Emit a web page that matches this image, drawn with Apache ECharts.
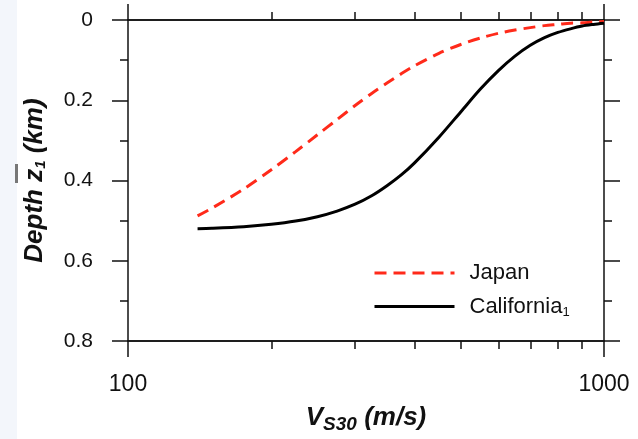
<!DOCTYPE html>
<html>
<head>
<meta charset="utf-8">
<script src="https://cdn.jsdelivr.net/npm/echarts@6/dist/echarts.min.js"></script>
<style>
html,body{margin:0;padding:0;background:#fff;}
#c{width:638px;height:439px;}
</style>
</head>
<body>
<div id="c"></div>
<script>
// Data
const vs30 = [140,150,175,200,225,250,275,300,325,350,375,400,450,500,550,600,650,700,750,800,850,900,950,1000];
const japan = [0.488,0.469,0.421,0.373,0.328,0.286,0.248,0.213,0.183,0.157,0.134,0.114,0.083,0.061,0.045,0.033,0.025,0.019,0.014,0.011,0.008,0.007,0.005,0.004];
const california = [0.520,0.519,0.515,0.509,0.501,0.490,0.476,0.459,0.438,0.413,0.386,0.356,0.292,0.229,0.172,0.126,0.090,0.063,0.044,0.031,0.022,0.015,0.011,0.008];
const xMajorTicks = [100,1000];
const xMinorTicks = [200,300,400,500,600,700,800,900];
const xLabels = [100,1000];

const FONT = 'Liberation Sans, Arial, sans-serif';
const AX = '#111';
const chart = echarts.init(document.getElementById('c'), null, {renderer:'canvas'});

function xAx(pos, ticks, len, labels, extra){
  return Object.assign({
    type:'log', logBase:10, min:100, max:1000, position:pos, gridIndex:0,
    axisLine:{show:true, onZero:false, lineStyle:{color:AX, width:1.5}},
    axisTick:{show:true, inside:false, length:len, customValues:ticks, lineStyle:{color:AX, width:1.5}},
    axisLabel:labels ? {show:true, customValues:labels, margin:32, fontSize:23, color:'#111', fontFamily:FONT,
                        formatter:function(v){ return String(Math.round(v)); }} : {show:false},
    splitLine:{show:false}, minorTick:{show:false}, minorSplitLine:{show:false}
  }, extra||{});
}
function yAx(pos, labels, extra){
  return Object.assign({
    type:'value', inverse:true, min:0, max:0.8, interval:0.2, position:pos,
    axisLine:{show:true, onZero:false, lineStyle:{color:AX, width:1.5}},
    axisTick:{show:true, inside:false, length:16, lineStyle:{color:AX, width:1.5}},
    minorTick:{show:true, splitNumber:2, length:8, lineStyle:{color:AX, width:1.5}},
    axisLabel:labels ? {show:true, margin:35, fontSize:21, color:'#111', fontFamily:FONT} : {show:false},
    splitLine:{show:false}, minorSplitLine:{show:false}
  }, extra||{});
}

const option = {
  backgroundColor:'#fff',
  animation:false,
  grid:{left:128, right:34, top:20, bottom:97, containLabel:false},
  xAxis:[
    xAx('bottom', xMajorTicks, 16, xLabels, {
      name:'{v|V}{s|S30}{v| (m/s)}', nameLocation:'middle', nameGap:57,
      nameTextStyle:{rich:{
        v:{fontSize:26, fontWeight:'bold', fontStyle:'italic', color:'#111', fontFamily:FONT, lineHeight:32},
        s:{fontSize:19, fontWeight:'bold', fontStyle:'italic', color:'#111', fontFamily:FONT, padding:[14,0,0,0], lineHeight:32}
      }}
    }),
    xAx('bottom', xMinorTicks, 8, null),
    xAx('top', xMajorTicks, 16, null),
    xAx('top', xMinorTicks, 8, null)
  ],
  yAxis:[
    yAx('left', true, {
      name:'{v|Depth z}{s|1}{v| (km)}', nameLocation:'middle', nameGap:78, nameRotate:90,
      nameTextStyle:{rich:{
        v:{fontSize:26, fontWeight:'bold', fontStyle:'italic', color:'#111', fontFamily:FONT, lineHeight:30},
        s:{fontSize:15, fontWeight:'bold', fontStyle:'italic', color:'#111', fontFamily:FONT, padding:[12,0,0,0], lineHeight:30}
      }}
    }),
    yAx('right', false)
  ],
  legend:{
    orient:'vertical', left:368, top:257, itemWidth:80, itemHeight:20, itemGap:10,
    itemStyle:{opacity:0},
    lineStyle:{width:3},
    data:['Japan','California'],
    formatter:function(n){ return n==='California' ? '{a|California}{s|1}' : '{a|Japan}'; },
    textStyle:{padding:[0,0,0,10], rich:{
      a:{fontSize:22, color:'#111', fontFamily:FONT, lineHeight:20},
      s:{fontSize:13, color:'#111', fontFamily:FONT, padding:[12,0,0,0], lineHeight:20}
    }}
  },
  graphic:[
    {type:'rect', shape:{x:0,y:0,width:17,height:439}, style:{fill:'#f3f6fb'}, silent:true, z:-10},
    {type:'rect', shape:{x:15,y:164,width:3,height:19}, style:{fill:'#777'}, silent:true, z:-9}
  ],
  series:[
    {name:'Japan', type:'line', xAxisIndex:0, yAxisIndex:0, symbol:'none', smooth:0.3,
     data:vs30.map((v,i)=>[v, japan[i]]),
     lineStyle:{color:'#ff2a1a', width:3, type:[12,7]}, itemStyle:{color:'#ff2a1a'}},
    {name:'California', type:'line', xAxisIndex:0, yAxisIndex:0, symbol:'none', smooth:0.3,
     data:vs30.map((v,i)=>[v, california[i]]),
     lineStyle:{color:'#000', width:3}, itemStyle:{color:'#000'}}
  ]
};
chart.setOption(option);
</script>
</body>
</html>
